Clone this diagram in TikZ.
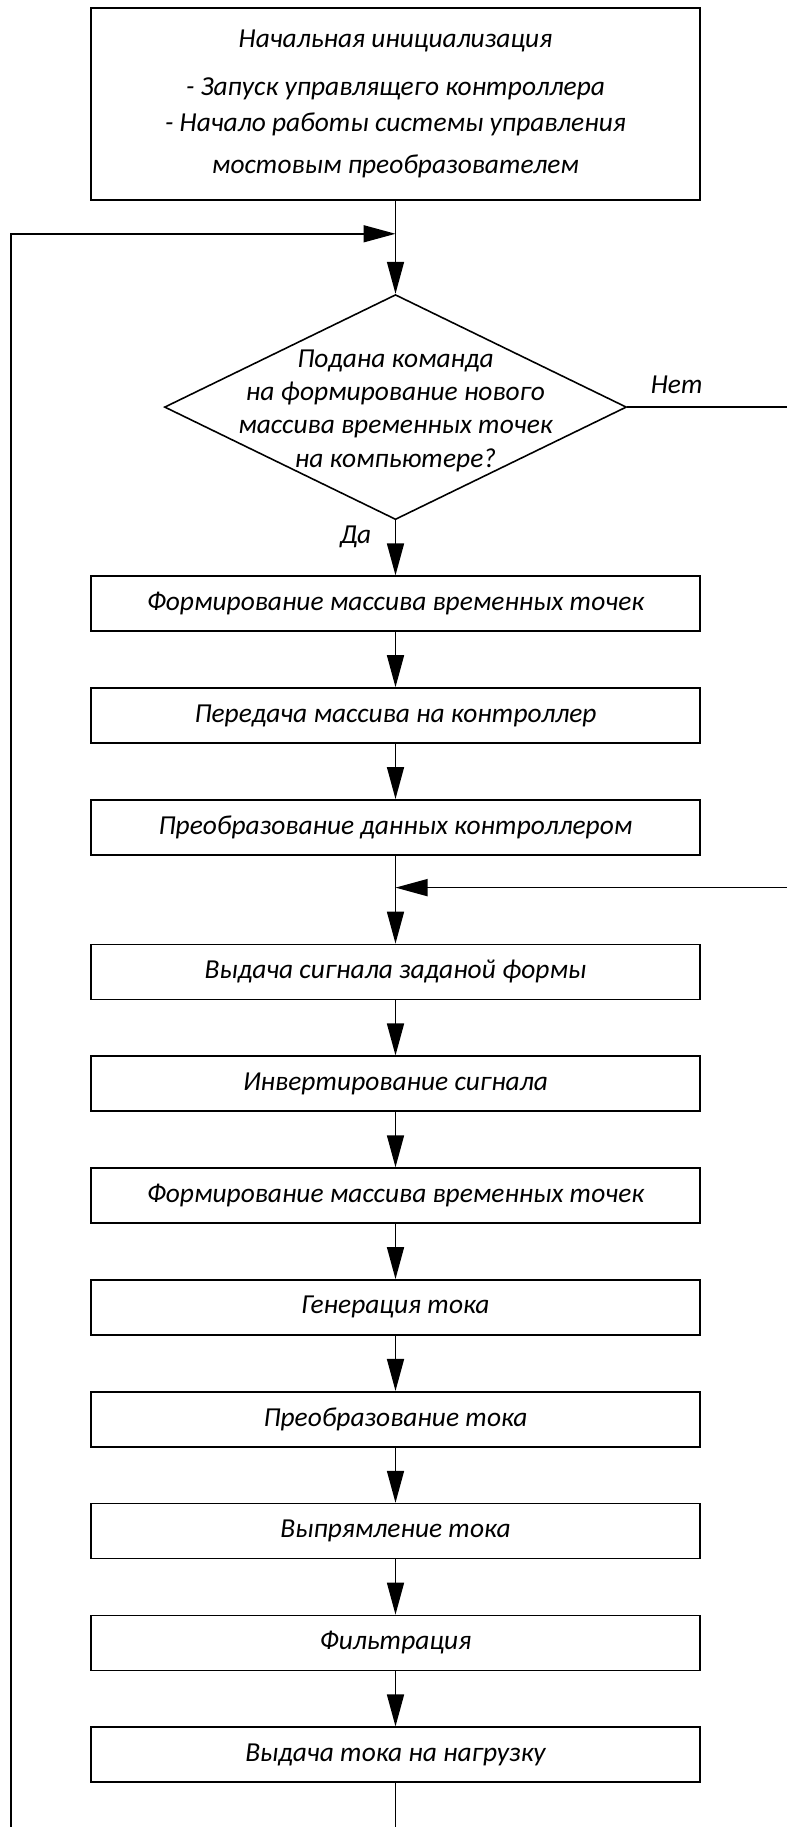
\documentclass[tikz,border=0pt]{standalone}
\usepackage{fontspec}
\setmainfont{Carlito}
\usetikzlibrary{arrows.meta, positioning, shapes.geometric}

\begin{document}
\begin{tikzpicture}[>={Triangle[length=0.64cm, width=0.34cm]},
      node distance=1.105cm,
      font=\fontsize{15.6}{19}\selectfont\itshape,
      box/.style={draw, line width=0.9pt, minimum width=12.18cm, minimum height=1.1cm,
                  inner sep=0pt, align=center},
      decision/.style={draw, line width=0.9pt, diamond, inner sep=0pt,
                       minimum width=9.24cm, minimum height=4.5cm},
      arr/.style={->, line width=0.9pt},
      line/.style={line width=0.9pt}]
    \useasboundingbox (0,0) rectangle (15.74,-36.54);
    \coordinate (edgeR) at (15.74,-36.54);
    \node[box, minimum height=3.84cm] (init) at (7.91,-2.08)
      {Начальная инициализация\\[0.3cm]
       - Запуск управлящего контроллера\\[0.05cm]
       - Начало работы системы управления\\[0.18cm]
       мостовым преобразователем};
    \coordinate[below=0.66cm of init] (join);
    \node[decision, below=1.86cm of init,
          label={[align=center, yshift=-0.07cm]center:Подана команда\\ на формирование нового\\ массива временных точек\\ на компьютере?}]
      (check) {};
    \node[box, below=1.1cm of check] (form) {Формирование массива временных точек};
    \node[box, below=of form] (send) {Передача массива на контроллер};
    \node[box, below=of send] (conv) {Преобразование данных контроллером};
    \coordinate[below=0.64cm of conv] (join2);
    \node[box, below=1.76cm of conv] (signal) {Выдача сигнала заданой формы};
    \node[box, below=of signal] (inv) {Инвертирование сигнала};
    \node[box, below=of inv] (form2) {Формирование массива временных точек};
    \node[box, below=of form2] (gen) {Генерация тока};
    \node[box, below=of gen] (trans) {Преобразование тока};
    \node[box, below=of trans] (rect) {Выпрямление тока};
    \node[box, below=of rect] (filt) {Фильтрация};
    \node[box, below=of filt] (load) {Выдача тока на нагрузку};
    \coordinate (loopB) at (0.22,-36.54);
    % arrows
    \draw[line] (init) -- (join);
    \draw[arr] (join) -- (check);
    \draw[line] (check.east) -- node[pos=0.31, above=4pt]{Нет} (check -| edgeR);
    \draw[arr] (check) -- node[pos=0.3, left=10pt]{Да} (form);
    \draw[arr] (form) -- (send);
    \draw[arr] (send) -- (conv);
    \draw[line] (conv) -- (join2);
    \draw[arr] (join2 -| edgeR) -- (join2);
    \draw[arr] (join2) -- (signal);
    \draw[arr] (signal) -- (inv);
    \draw[arr] (inv) -- (form2);
    \draw[arr] (form2) -- (gen);
    \draw[arr] (gen) -- (trans);
    \draw[arr] (trans) -- (rect);
    \draw[arr] (rect) -- (filt);
    \draw[arr] (filt) -- (load);
    \draw[line] (load) -- (load |- edgeR);
    \draw[arr] (loopB) |- (join);
  \end{tikzpicture}
\end{document}
